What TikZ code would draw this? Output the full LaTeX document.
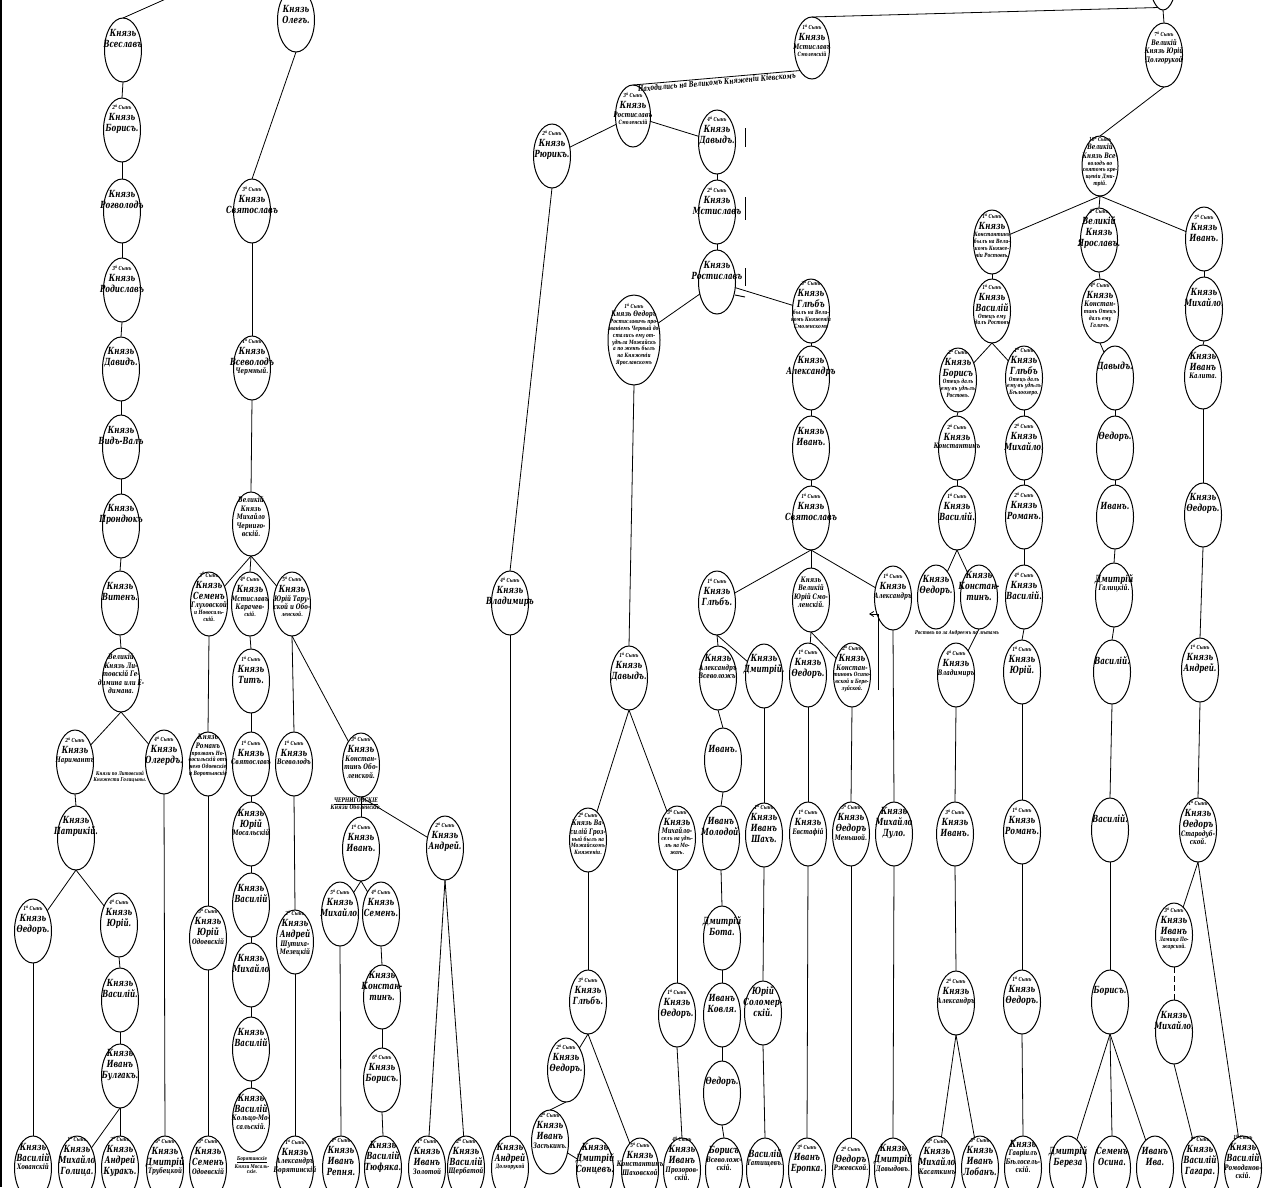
\documentclass[tikz,border=0pt]{standalone}
\usepackage{fontspec}
\setmainfont{DejaVu Serif}[FakeStretch=0.72]
\usetikzlibrary{shapes.geometric,arrows.meta}
\newcommand\sy[1]{{\fontsize{5.5}{6.5}\selectfont #1\textsuperscript{й}\,Сынъ}}
\newcommand\ds{\fontsize{5.8}{6.8}\selectfont}
\newcommand\md{\fontsize{7.5}{8.5}\selectfont}
\newsavebox\txbox
\newcommand\tx[2][9]{\setbox\txbox\hbox{\raisebox{#1pt}{$\vcenter{\hsize=100pt\centering\fontsize{9.8}{11}\selectfont\bfseries\itshape\let\\\par #2\par}$}}\ht\txbox=0pt\dp\txbox=0pt\makebox[0pt]{\box\txbox}}
\tikzset{
 pe/.style={ellipse, draw, line width=1pt, minimum width=37pt, minimum height=64pt, inner sep=0pt, outer sep=0pt},
 ln/.style={line width=0.8pt},
 lab/.style={font=\bfseries\itshape\fontsize{5.3}{5.8}\selectfont, align=center, inner sep=0pt},
}
\begin{document}
\begin{tikzpicture}[x=1pt,y=-1pt]
\useasboundingbox (0,0) rectangle (1271,1187);
\draw[line width=1.5pt] (1,0) -- (1,1187);
% ---------- Lithuanian branch
\node[pe] (vseslav) at (123,50) {\tx{Князь\\Всеславъ}};
\node[pe] (borisA) at (122,130) {\tx{\sy{2}\\Князь\\Борисъ.}};
\node[pe] (rogvolod) at (122,211) {\tx{Князь\\Рогволодъ}};
\node[pe] (rodislav) at (122,290) {\tx{\sy{3}\\Князь\\Родиславъ}};
\node[pe] (davidA) at (121,369) {\tx{Князь\\Давидъ.}};
\node[pe] (vidval) at (121,447) {\tx{Князь\\Видъ-Валъ}};
\node[pe] (prond) at (121,526) {\tx{Князь\\Прондюкъ}};
\node[pe] (viten) at (120,603) {\tx{Князь\\Витенъ.}};
\node[pe] (gedim) at (121,680) {\tx[4]{\md Великій\\\md Князь Ли-\\\md товскій Ге-\\\md димина или Е-\\\md димана.}};
\node[pe] (narim) at (75,762) {\tx{\sy{2}\\Князь\\\md Наримантъ}};
\node[pe] (olgerd) at (164,762) {\tx{\sy{4}\\Князь\\Олгердъ.}};
\node[lab] (litlab) at (120,777) {Князи по Литовской\\Княжести Голицыны.};
\node[pe] (patrik) at (76,838) {\tx{Князь\\Патрикій.}};
\node[pe] (fedorA) at (33,931) {\tx{\sy{1}\\Князь\\Ѳедоръ.}};
\node[pe] (yuriA) at (119,925) {\tx{\sy{4}\\Князь\\Юрій.}};
\node[pe] (vasA) at (120,1000) {\tx{Князь\\Василій.}};
\node[pe] (bulgak) at (120,1076) {\tx{Князь\\Иванъ\\Булгакъ.}};
\node[pe] (khov) at (33,1168) {\tx{Князь\\Василій\\\md Хованскій}};
\node[pe] (golic) at (77,1168) {\tx{\sy{1}\\Князь\\Михайло\\Голица.}};
\node[pe] (kurak) at (120,1168) {\tx{\sy{2}\\Князь\\Андрей\\Куракъ.}};
\node[pe] (trub) at (165,1168) {\tx{\sy{6}\\Князь\\Дмитрій\\\md Трубецкой}};
% ---------- Chernigov branch
\node[pe] (oleg) at (296,20) {\tx[3]{Князь\\Олегъ.}};
\node[pe] (svyatB) at (252,211) {\tx{\sy{3}\\Князь\\Святославъ}};
\node[pe] (vsevCh) at (252,368) {\tx{\sy{1}\\Князь\\Всеволодъ\\\md Чермный.}};
\node[pe] (mikhCh) at (251,524) {\tx[5]{\md Великій\\\md Князь\\\md Михайло\\\md Черниго-\\\md вскій.}};
\node[pe] (semenG) at (209,604) {\tx[5]{\sy{3}\\Князь\\Семенъ\\\md Глуховской\\\ds и Новосиль-\\\ds скій.}};
\node[pe] (mstK) at (250,604) {\tx[5]{\sy{4}\\Князь\\\md Мстиславъ\\\md Карачев-\\\ds скій.}};
\node[pe] (yuriT) at (292,604) {\tx[5]{\sy{5}\\Князь\\\md Юрій Тару-\\\md ской и Обо-\\\ds ленской.}};
\node[pe] (romanN) at (208,764) {\tx[6]{\md Князь\\\md Романъ\\\ds прозванъ Но-\\\ds восильскій отъ\\\ds него Одоевскіе\\\ds и Воротынскіе}};
\node[pe] (yuriO) at (208,938) {\tx{\sy{3}\\Князь\\Юрій\\\md Одоевскій}};
\node[pe] (semenO) at (208,1168) {\tx{\sy{3}\\Князь\\Семенъ\\\md Одоевскій}};
\node[pe] (tit) at (251,681) {\tx{\sy{1}\\Князь\\Титъ.}};
\node[pe] (svyatK) at (251,764) {\tx{\sy{1}\\Князь\\\md Святославъ}};
\node[pe] (yuriM) at (251,834) {\tx{Князь\\Юрій\\\md Мосальскій}};
\node[pe] (vasM1) at (251,905) {\tx{Князь\\Василій}};
\node[pe] (mikhM) at (251,975) {\tx{Князь\\Михайло}};
\node[pe] (vasM2) at (251,1049) {\tx{Князь\\Василій}};
\node[pe] (vasKM) at (251,1120) {\tx[6]{Князь\\Василій\\\md Кольцо-Мо-\\\md сальскій.}};
\node[lab] (borlab) at (252,1165) {\underline{Борятинскіе}\\Князи Мосаль-\\скіе.};
\node[pe] (vsevT) at (294,764) {\tx{\sy{1}\\Князь\\\md Всеволодъ}};
\node[pe] (andrSh) at (295,942) {\tx[6]{\sy{2}\\Князь\\Андрей\\\md Шутиха-\\\md Мезецкій}};
\node[pe] (alexB) at (295,1168) {\tx{\sy{1}\\Князь\\\md Александръ\\\md Борятинскій}};
\node[pe] (konstO) at (361,765) {\tx[5]{\sy{3}\\Князь\\\md Констан-\\\md тинъ Обо-\\\md ленской.}};
\node[lab, font=\bfseries\itshape\fontsize{6.3}{7.3}\selectfont] (cherlab) at (356,804) {\underline{ЧЕРНИГОВСКІЕ}\\Князи Оболенскіе.};
\node[pe] (ivanO) at (361,849) {\tx{\sy{1}\\Князь\\Иванъ.}};
\node[pe] (andrO) at (445,848) {\tx{\sy{2}\\Князь\\Андрей.}};
\node[pe] (mikhO) at (340,914) {\tx{\sy{5}\\Князь\\Михайло.}};
\node[pe] (semenO2) at (381,914) {\tx{\sy{4}\\Князь\\Семенъ.}};
\node[pe] (repnya) at (341,1168) {\tx{\sy{4}\\Князь\\Иванъ\\Репня.}};
\node[pe] (konstO2) at (382,997) {\tx{Князь\\Констан-\\тинъ.}};
\node[pe] (borisO) at (382,1080) {\tx{\sy{6}\\Князь\\Борисъ.}};
\node[pe] (tyuf) at (383,1168) {\tx{Князь\\Василій\\Тюфяка.}};
\node[pe] (ivanOb) at (427,1168) {\tx{\sy{1}\\Князь\\Иванъ\\\md Золотой}};
\node[pe] (scherb) at (466,1168) {\tx{\sy{2}\\Князь\\Василій\\\md Щербатой}};
\node[pe] (dolg) at (510,1168) {\tx{Князь\\Андрей\\\ds Долгорукой}};
% ---------- Smolensk branch
\node[pe, minimum width=27pt] (topn) at (1163,-22) {};
\node[pe] (yuriD) at (1164,55) {\tx[5]{\sy{7}\\\md Великій\\\md Князь Юрій\\\md Долгорукой}};
\node[pe, minimum width=35pt, minimum height=62pt] (mstS) at (812,48) {\tx[5]{\sy{1}\\Князь\\\md Мстиславъ\\\ds Смоленскій}};
\node[pe, minimum width=35pt, minimum height=62pt] (rostS) at (633,116) {\tx[5]{\sy{3}\\Князь\\\md Ростиславъ\\\ds Смоленскій}};
\node[pe] (rurik) at (552,156) {\tx{\sy{2}\\Князь\\Рюрикъ.}};
\node[pe] (davS) at (717,142) {\tx{\sy{4}\\Князь\\Давыдъ.}};
\node[pe] (mstS2) at (717,212) {\tx{\sy{2}\\Князь\\Мстиславъ}};
\node[pe] (rostS2) at (717,282) {\tx{Князь\\Ростиславъ}};
\node[pe, minimum width=52pt, minimum height=90pt] (fedC) at (634,340) {\tx[3]{\sy{1}\\\md Князь Ѳедоръ\\\ds Ростиславичь про-\\\ds званіемъ Черный до-\\\ds стались ему от-\\\ds удѣла Можайскъ\\\ds а по женѣ былъ\\\ds на Княженіи\\\ds Ярославскомъ}};
\node[pe] (glebS) at (811,311) {\tx[4]{\sy{3}\\Князь\\Глѣбъ\\\ds былъ на Вели-\\\ds комъ Княженіи\\\ds Смоленскомъ}};
\node[pe] (alexS) at (811,378) {\tx{Князь\\Александръ}};
\node[pe] (ivanS) at (811,448) {\tx{Князь\\Иванъ.}};
\node[pe] (svyatS) at (811,518) {\tx{\sy{1}\\Князь\\Святославъ}};
\node[pe] (vladS) at (510,603) {\tx{\sy{4}\\Князь\\Владимиръ}};
\node[pe] (glebS2) at (717,603) {\tx{\sy{1}\\Князь\\Глѣбъ.}};
\node[pe] (yuriS) at (811,600) {\tx[5]{\md Князь\\\md Великій\\\md Юрій Смо-\\\md ленскій.}};
\node[pe] (alexS2) at (893,598) {\tx{\sy{1}\\Князь\\\md Александръ}};
\node[pe] (davC) at (629,678) {\tx{\sy{1}\\Князь\\Давыдъ.}};
\node[pe] (vasG) at (588,840) {\tx[4]{\sy{2}\\\md Князь Ва-\\\md силій Гроз-\\\ds ный былъ на\\\ds Можайскомъ\\\ds Княженіи.}};
\node[pe] (mikhM2) at (677,838) {\tx[4]{\sy{3}\\Князь\\\md Михайло-\\\ds селъ на удѣ-\\\ds лѣ на Мо-\\\ds жаѣ.}};
\node[pe] (glebC) at (588,1002) {\tx{\sy{3}\\Князь\\Глѣбъ.}};
\node[pe] (fedC2) at (566,1070) {\tx{\sy{2}\\Князь\\Ѳедоръ.}};
\node[pe] (zasek) at (550,1142) {\tx{\sy{2}\\Князь\\Иванъ\\\md Засѣкинъ.}};
\node[pe] (sontsev) at (595,1170) {\tx{Князь\\Дмитрій\\Сонцевъ.}};
\node[pe] (shakh) at (640,1170) {\tx{\sy{5}\\Князь\\\md Константинъ\\\md Шаховской}};
\node[pe] (fedM) at (677,1015) {\tx{\sy{1}\\Князь\\Ѳедоръ.}};
\node[pe] (prozor) at (682,1170) {\tx{\sy{4}\\Князь\\Иванъ\\\md Прозоров-\\\md скій.}};
\node[pe] (alexV) at (718,678) {\tx{Князь\\\md Александръ\\\md Всеволожъ.}};
\node[pe] (dmitG) at (764,676) {\tx{Князь\\Дмитрій.}};
\node[pe] (ivanV) at (723,760) {\tx{Иванъ.}};
\node[pe] (ivanMol) at (721,838) {\tx{Иванъ\\Молодой.}};
\node[pe] (dmBota) at (722,938) {\tx{Дмитрій\\Бота.}};
\node[pe] (ivKov) at (722,1015) {\tx{Иванъ\\Ковля.}};
\node[pe] (fedV) at (722,1093) {\tx{Ѳедоръ.}};
\node[pe] (borV) at (724,1170) {\tx{Борисъ\\\md Всеволож-\\\md скій.}};
\node[pe] (ivShakh) at (764,835) {\tx{\sy{1}\\Князь\\Иванъ\\Шахъ.}};
\node[pe] (yurSol) at (763,1013) {\tx{Юрій\\Соломер-\\скій.}};
\node[pe] (tatish) at (765,1170) {\tx{Василій\\\md Татищевъ.}};
\node[pe] (fedY) at (808,675) {\tx{\sy{1}\\Князь\\Ѳедоръ.}};
\node[pe] (evst) at (808,834) {\tx{\sy{1}\\Князь\\\md Евстафій}};
\node[pe] (eropka) at (807,1170) {\tx{\sy{3}\\Иванъ\\Еропка.}};
\node[pe] (konstY) at (852,675) {\tx[4]{\sy{2}\\Князь\\\md Констан-\\\ds тиновъ Осипо-\\\ds вской и Бере-\\\ds зуйской.}};
\node[pe] (fedMen) at (851,834) {\tx{\sy{5}\\Князь\\Ѳедоръ\\\md Меньшой.}};
\node[pe] (rzhev) at (851,1170) {\tx{\sy{2}\\Ѳедоръ\\\md Ржевской.}};
\node[pe] (dulo) at (894,834) {\tx{Князь\\Михайло\\Дуло.}};
\node[pe] (davydov) at (893,1170) {\tx{Князь\\Дмитрій\\\md Давыдовъ.}};
% ---------- Vladimir branch
\node[pe, minimum width=36pt, minimum height=60pt] (vsevB) at (1100,166) {\tx[2]{\sy{10}\\\md Великій\\\md Князь Все-\\\ds володъ во\\\ds святомъ кре-\\\ds щеніи Дми-\\\ds трій.}};
\node[pe] (konstV) at (992,242) {\tx[4]{\sy{1}\\Князь\\\ds Константинъ\\\ds былъ на Вели-\\\ds комъ Княже-\\\ds ніи Ростовѣ.}};
\node[pe] (yarosl) at (1099,240) {\tx{\sy{4}\\Великій\\Князь\\Ярославъ.}};
\node[pe] (ivanSt) at (1204,239) {\tx{\sy{5}\\Князь\\Иванъ.}};
\node[pe] (vasR) at (992,311) {\tx[4]{\sy{1}\\Князь\\Василій\\\ds Отецъ ему\\\ds далъ Ростовъ}};
\node[pe] (konstGal) at (1100,311) {\tx[4]{\sy{4}\\Князь\\\md Констан-\\\ds тинъ Отецъ\\\ds далъ ему\\\ds Галичъ.}};
\node[pe] (mikhSt) at (1204,309) {\tx{Князь\\Михайло.}};
\node[pe] (borR) at (958,380) {\tx[4]{\sy{2}\\Князь\\Борисъ\\\ds Отецъ далъ\\\ds ему въ удѣлъ\\\ds Ростовъ.}};
\node[pe] (glebR) at (1024,378) {\tx[4]{\sy{1}\\Князь\\Глѣбъ\\\ds Отецъ далъ\\\ds ему въ удѣлъ\\\ds Бѣлоозеро.}};
\node[pe] (davG) at (1115,378) {\tx{Давыдъ.}};
\node[pe] (ivanKal) at (1203,377) {\tx{Князь\\Иванъ\\\md Калита.}};
\node[pe] (konstR) at (957,448) {\tx{\sy{2}\\Князь\\\md Константинъ}};
\node[pe] (mikhB) at (1024,448) {\tx{\sy{2}\\Князь\\Михайло.}};
\node[pe] (fedG) at (1115,448) {\tx{Ѳедоръ.}};
\node[pe] (vasR2) at (957,518) {\tx{\sy{1}\\Князь\\Василій.}};
\node[pe] (romB) at (1024,517) {\tx{\sy{2}\\Князь\\Романъ.}};
\node[pe] (ivG) at (1115,517) {\tx{Иванъ.}};
\node[pe] (fedSt) at (1203,515) {\tx{Князь\\Ѳедоръ.}};
\node[pe] (fedR) at (936,597) {\tx{Князь\\Ѳедоръ.}};
\node[pe] (konstR2) at (979,597) {\tx{Князь\\Констан-\\тинъ.}};
\node[lab] (rostlab) at (957,633) {Ростовъ по за Андреемъ по лѣтамъ};
\node[pe] (vasB) at (1024,597) {\tx{\sy{4}\\Князь\\Василій.}};
\node[pe] (dmGal) at (1114,595) {\tx{Дмитрій\\\md Галицкій.}};
\node[pe] (vladR) at (956,675) {\tx{\sy{4}\\Князь\\\md Владимиръ}};
\node[pe] (yuriB) at (1022,672) {\tx{\sy{1}\\Князь\\Юрій.}};
\node[pe] (vasG2) at (1112,672) {\tx{Василій.}};
\node[pe] (andrSt) at (1200,670) {\tx{\sy{1}\\Князь\\Андрей.}};
\node[pe] (ivanR) at (955,834) {\tx{\sy{3}\\Князь\\Иванъ.}};
\node[pe] (romB2) at (1022,832) {\tx{\sy{1}\\Князь\\Романъ.}};
\node[pe] (vasG3) at (1110,830) {\tx{Василій.}};
\node[pe] (fedSt2) at (1198,830) {\tx[5]{\sy{1}\\Князь\\Ѳедоръ\\\md Стародуб-\\\md ской.}};
\node[pe] (alexR) at (956,1003) {\tx{\sy{2}\\Князь\\\md Александръ}};
\node[pe] (fedB) at (1022,1002) {\tx{\sy{1}\\Князь\\Ѳедоръ.}};
\node[pe] (borG) at (1110,1002) {\tx{Борисъ.}};
\node[pe] (ivanT) at (1174,935) {\tx[4]{\sy{3}\\Князь\\Иванъ\\\ds Ламица По-\\\ds жарской.}};
\node[pe] (mikhT) at (1174,1032) {\tx{Князь\\Михайло.}};
\node[pe] (kasat) at (937,1168) {\tx{\sy{3}\\Князь\\Михайло\\\md Касаткинъ}};
\node[pe] (lobanov) at (980,1168) {\tx{\sy{5}\\Князь\\Иванъ\\Лобанъ.}};
\node[pe] (belos) at (1023,1168) {\tx{Князь\\\md Гавріилъ\\\md Бѣлосель-\\\md скій.}};
\node[pe] (bereza) at (1068,1168) {\tx{Дмитрій\\Береза}};
\node[pe] (osina) at (1112,1168) {\tx{Семенъ\\Осина.}};
\node[pe] (iva) at (1155,1168) {\tx{Иванъ\\Ива.}};
\node[pe] (gagar) at (1200,1168) {\tx{\sy{1}\\Князь\\Василій\\Гагара.}};
\node[pe] (romod) at (1243,1168) {\tx{\sy{1}\\Князь\\Василій\\\md Ромоданов-\\\md скій.}};
% ---------- connectors
\coordinate (tlc) at (168,-2);
\draw[ln] (vseslav.north) -- (tlc);
\foreach \a/\b in {vseslav/borisA, borisA/rogvolod, rogvolod/rodislav, rodislav/davidA, davidA/vidval, vidval/prond, prond/viten, viten/gedim, narim/patrik, fedorA/khov, yuriA/vasA, vasA/bulgak, bulgak/kurak, olgerd/trub, oleg/svyatB, svyatB/vsevCh, vsevCh/mikhCh, mikhCh/mstK, semenG/romanN, romanN/yuriO, yuriO/semenO, mstK/tit, tit/svyatK, svyatK/yuriM, yuriM/vasM1, vasM1/mikhM, mikhM/vasM2, vasM2/vasKM, yuriT/vsevT, vsevT/andrSh, andrSh/alexB, konstO/ivanO, mikhO/repnya, semenO2/konstO2, konstO2/borisO, borisO/tyuf, topn/yuriD, davS/mstS2, mstS2/rostS2, glebS/alexS, alexS/ivanS, ivanS/svyatS, svyatS/yuriS, rurik/vladS, vladS/dolg, fedC/davC, vasG/glebC, fedC2/zasek, mikhM2/fedM, fedM/prozor, glebS2/alexV, alexV/ivanV, ivanV/ivanMol, ivanMol/dmBota, dmBota/ivKov, ivKov/fedV, fedV/borV, dmitG/ivShakh, ivShakh/yurSol, yurSol/tatish, fedY/evst, evst/eropka, konstY/fedMen, fedMen/rzhev, alexS2/dulo, dulo/davydov, vsevB/yarosl, konstV/vasR, borR/konstR, konstR/vasR2, vladR/ivanR, ivanR/alexR, glebR/mikhB, mikhB/romB, romB/vasB, vasB/yuriB, yuriB/romB2, romB2/fedB, fedB/belos, yarosl/konstGal, davG/fedG, fedG/ivG, ivG/dmGal, dmGal/vasG2, vasG2/vasG3, vasG3/borG, borG/osina, ivanSt/mikhSt, mikhSt/ivanKal, ivanKal/fedSt, fedSt/andrSt, andrSt/fedSt2, yuriD/vsevB}
  \draw[ln] (\a.south) -- (\b.north);
\foreach \a/\b in {gedim/narim, gedim/olgerd, patrik/fedorA, patrik/yuriA, bulgak/golic, mikhCh/semenG, mikhCh/yuriT, yuriT/konstO, konstO/andrO, ivanO/mikhO, ivanO/semenO2, andrO/ivanOb, andrO/scherb, svyatS/glebS2, svyatS/alexS2, davC/vasG, davC/mikhM2, glebC/fedC2, glebC/shakh, glebS2/dmitG, yuriS/fedY, yuriS/konstY, vsevB/konstV, vsevB/ivanSt, vasR/borR, vasR/glebR, vasR2/fedR, vasR2/konstR2, konstR2/vladR, alexR/kasat, alexR/lobanov, konstGal/davG, borG/bereza, borG/iva, fedSt2/ivanT, fedSt2/romod, mikhT/gagar}
  \draw[ln] (\a.south) -- (\b);
\foreach \a/\b in {rostS/rurik, rostS/davS, rostS2/fedC, rostS2/glebS, zasek/sontsev}
  \draw[ln] (\a) -- (\b);
\draw[ln, dash pattern=on 6pt off 3pt] (ivanT.south) -- (mikhT.north);
\draw[ln] (topn.-100) -- (mstS.north);
\draw[ln] (rostS.north) -- node[sloped, below=1pt, inner sep=0pt, font=\bfseries\itshape\fontsize{7.8}{8}\selectfont] (kievlab) {Находились на Великомъ Княженіи Кіевскомъ} (mstS.-118);
% arrow and marks
\coordinate (ar1) at (878,690);
\coordinate (ar2) at (878,614);
\coordinate (ar3) at (869,614);
\draw[ln] (ar1) -- (ar2);
\draw[ln, -{Straight Barb[length=4pt,width=5pt]}] (ar2) -- (ar3);
\draw[line width=0.9pt] (745,128) -- (745,147);
\draw[line width=0.9pt] (745,197) -- (745,220);
\draw[line width=0.9pt] (745,268) -- (745,286);
\draw[line width=0.9pt] (735,295) -- (745,297);
\end{tikzpicture}
\end{document}
